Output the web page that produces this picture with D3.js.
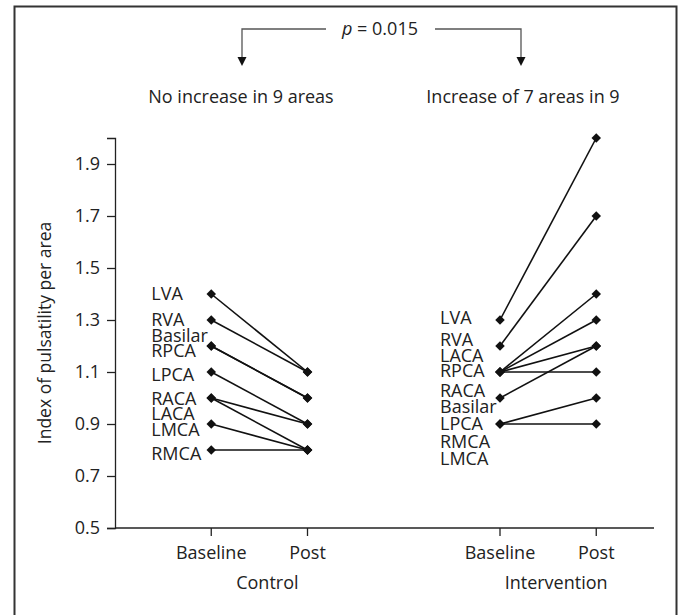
<!DOCTYPE html>
<html>
<head>
<meta charset="utf-8">
<script src="https://cdn.jsdelivr.net/npm/d3@7"></script>
<style>
  body { margin: 0; background: #fff; }
  text { font-family: "Open Sans", sans-serif; fill: #222; }
</style>
</head>
<body>
<div id="chart"></div>
<script>
// area names and pulsatility index values
const controlAreas = ["LVA", "RVA", "Basilar", "RPCA", "LPCA", "RACA", "LACA", "LMCA", "RMCA"];
const controlBaseline = [1.4, 1.3, 1.2, 1.2, 1.1, 1.0, 1.0, 0.9, 0.8];
const controlPost = [1.1, 1.1, 1.0, 1.0, 0.9, 0.9, 0.8, 0.8, 0.8];

const interventionAreas = ["LVA", "RVA", "LACA", "RPCA", "RMCA", "LMCA", "RACA", "Basilar", "LPCA"];
const interventionBaseline = [1.3, 1.2, 1.1, 1.1, 1.1, 1.1, 1.0, 0.9, 0.9];
const interventionPost = [2.0, 1.7, 1.4, 1.3, 1.2, 1.1, 1.2, 1.0, 0.9];

// label lists as printed next to the baseline column (value = height of each label)
const controlLabels = ["LVA", "RVA", "Basilar", "RPCA", "LPCA", "RACA", "LACA", "LMCA", "RMCA"];
const controlLabelValues = [1.4, 1.3, 1.238, 1.181, 1.09, 0.997, 0.94, 0.877, 0.785];
const interventionLabels = ["LVA", "RVA", "LACA", "RPCA", "RACA", "Basilar", "LPCA", "RMCA", "LMCA"];
const interventionLabelValues = [1.31, 1.225, 1.163, 1.104, 1.03, 0.967, 0.9, 0.833, 0.767];

const groups = ["Control", "Intervention"];
const groupTitles = ["No increase in 9 areas", "Increase of 7 areas in 9"];
const times = ["Baseline", "Post"];
const yTicks = [0.5, 0.7, 0.9, 1.1, 1.3, 1.5, 1.7, 1.9];
const pText = "= 0.015";

const width = 680, height = 615;
const margin = {left: 115, right: 26, top: 138, bottom: 87};
const fs = 18;

const svg = d3.select("#chart").append("svg")
  .attr("width", width)
  .attr("height", height);

// frame
svg.append("rect")
  .attr("x", 14.5).attr("y", 6.5)
  .attr("width", 662).attr("height", 640)
  .attr("fill", "none")
  .attr("stroke", "#333")
  .attr("stroke-width", 2);

const y = d3.scaleLinear()
  .domain([0.5, 2.0])
  .range([height - margin.bottom, margin.top]);

// slot positions: group start + time offset
const groupSlot = {Control: 1, Intervention: 4};
const x = d3.scaleLinear()
  .domain([0, 5.6])
  .range([margin.left, width - margin.right]);
const xPos = (g, t) => x(groupSlot[g] + times.indexOf(t));

// y axis
const yAxis = svg.append("g")
  .attr("transform", `translate(${margin.left},0)`)
  .call(d3.axisLeft(y).tickValues(yTicks).tickFormat(d3.format(".1f")).tickSize(8).tickPadding(7));
yAxis.select(".domain").attr("stroke", "#222").attr("stroke-width", 1.3);
yAxis.selectAll(".tick line").attr("stroke", "#222").attr("stroke-width", 1.3);
yAxis.selectAll("text").attr("font-size", fs).attr("font-family", "Open Sans").attr("fill", "#222");

// x axis line
svg.append("line")
  .attr("x1", margin.left).attr("x2", width - margin.right)
  .attr("y1", y(0.5)).attr("y2", y(0.5))
  .attr("stroke", "#222").attr("stroke-width", 1.3);

const ticks = [];
groups.forEach(g => times.forEach(t => ticks.push({g, t})));

svg.selectAll(".xtick").data(ticks).join("line")
  .attr("class", "xtick")
  .attr("x1", d => xPos(d.g, d.t)).attr("x2", d => xPos(d.g, d.t))
  .attr("y1", y(0.5)).attr("y2", y(0.5) + 8)
  .attr("stroke", "#222").attr("stroke-width", 1.3);

svg.selectAll(".xlab").data(ticks).join("text")
  .attr("class", "xlab")
  .attr("x", d => xPos(d.g, d.t))
  .attr("y", y(0.5) + 31)
  .attr("text-anchor", "middle")
  .attr("font-size", fs)
  .text(d => d.t);

svg.selectAll(".glab").data(groups).join("text")
  .attr("class", "glab")
  .attr("x", g => (xPos(g, "Baseline") + xPos(g, "Post")) / 2 + 8)
  .attr("y", y(0.5) + 61)
  .attr("text-anchor", "middle")
  .attr("font-size", fs)
  .text(g => g);

// y title
svg.append("text")
  .attr("transform", `translate(51,${(y(0.5) + y(2.0)) / 2}) rotate(-90)`)
  .attr("text-anchor", "middle")
  .attr("font-size", 17.5)
  .text("Index of pulsatility per area");

// group titles
svg.selectAll(".gtitle").data(groups).join("text")
  .attr("class", "gtitle")
  .attr("x", (g, i) => i === 0 ? 241 : 523)
  .attr("y", 103)
  .attr("text-anchor", "middle")
  .attr("font-size", fs)
  .text((g, i) => groupTitles[i]);

// p-value bracket
const bx0 = 242, bx1 = 521, by = 29, tipY = 66;
const bracket = svg.append("g").attr("stroke", "#555").attr("stroke-width", 1.3).attr("fill", "none");
bracket.append("path").attr("d", `M${bx0},${tipY - 7}V${by}H326`);
bracket.append("path").attr("d", `M435,${by}H${bx1}V${tipY - 7}`);
svg.selectAll(".arrow").data([bx0, bx1]).join("path")
  .attr("class", "arrow")
  .attr("d", d => `M${d - 4.5},${tipY - 9}L${d + 4.5},${tipY - 9}L${d},${tipY}Z`)
  .attr("fill", "#111");
const pt = svg.append("text")
  .attr("x", 380).attr("y", by + 6)
  .attr("text-anchor", "middle")
  .attr("font-size", fs);
pt.append("tspan").attr("font-style", "italic").text("p");
pt.append("tspan").text(" " + pText);

// slopes
function drawGroup(g, areas, base, post, labels, labelValues) {
  const rows = areas.map((a, i) => ({a, b: base[i], p: post[i]}));
  const layer = svg.append("g");
  layer.selectAll("line").data(rows).join("line")
    .attr("x1", xPos(g, "Baseline")).attr("x2", xPos(g, "Post"))
    .attr("y1", d => y(d.b)).attr("y2", d => y(d.p))
    .attr("stroke", "#111").attr("stroke-width", 1.6);
  const pts = [];
  rows.forEach(d => {
    pts.push({t: "Baseline", v: d.b});
    pts.push({t: "Post", v: d.p});
  });
  const diamond = d3.symbol().type(d3.symbolSquare).size(45);
  layer.selectAll("path").data(pts).join("path")
    .attr("d", diamond)
    .attr("transform", d => `translate(${xPos(g, d.t)},${y(d.v)}) rotate(45)`)
    .attr("fill", "#111");
  layer.selectAll("text").data(labels).join("text")
    .attr("x", xPos(g, "Baseline") - 60)
    .attr("y", (d, i) => y(labelValues[i]))
    .attr("dy", "0.35em")
    .attr("font-size", fs)
    .text(d => d);
}

drawGroup("Control", controlAreas, controlBaseline, controlPost, controlLabels, controlLabelValues);
drawGroup("Intervention", interventionAreas, interventionBaseline, interventionPost, interventionLabels, interventionLabelValues);
</script>
</body>
</html>
